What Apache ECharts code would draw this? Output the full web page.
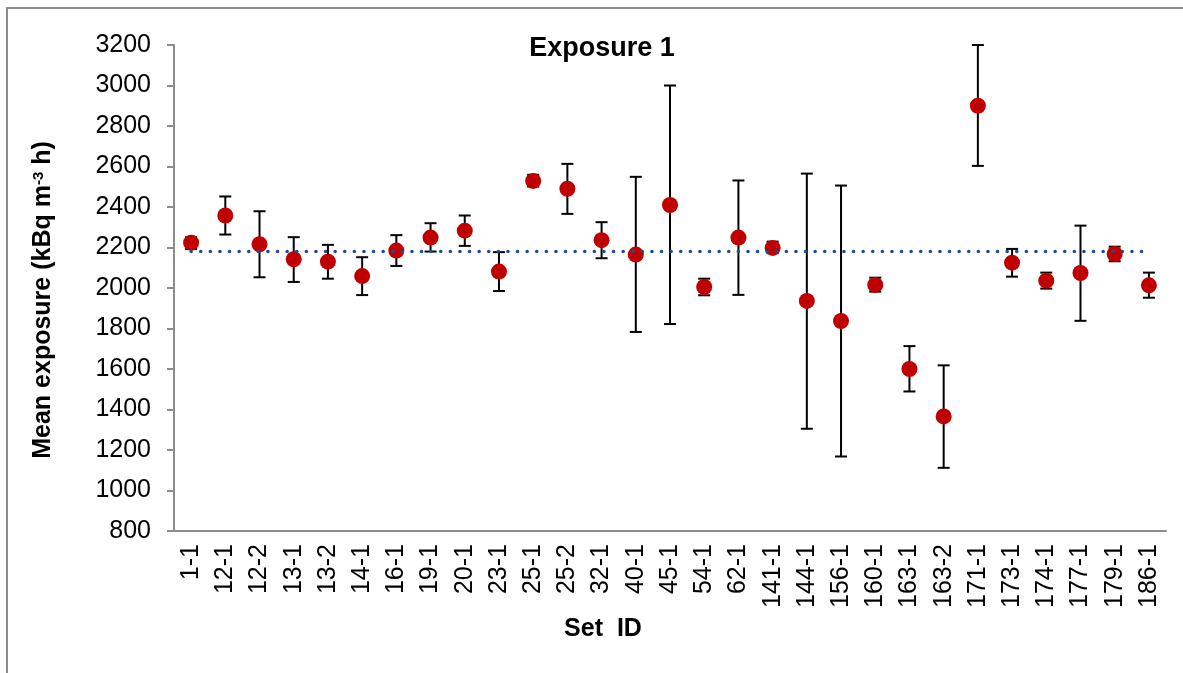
<!DOCTYPE html>
<html>
<head>
<meta charset="utf-8">
<script src="https://cdn.jsdelivr.net/npm/echarts@6/dist/echarts.min.js"></script>
<style>
  html, body { margin: 0; padding: 0; background: #fff; overflow: hidden; }
  #frame {
    position: absolute; left: 6px; top: 7px;
    width: 1300px; height: 800px;
    border-left: 2px solid #8c8c8c; border-top: 2px solid #8c8c8c;
  }
  #main { position: absolute; left: 0; top: 0; width: 1183px; height: 673px; }
</style>
</head>
<body>
<div id="frame"></div>
<div id="main"></div>
<script>
// set IDs along the x axis
var setIds = ['1-1', '12-1', '12-2', '13-1', '13-2', '14-1', '16-1', '19-1', '20-1', '23-1',
  '25-1', '25-2', '32-1', '40-1', '45-1', '54-1', '62-1', '141-1', '144-1', '156-1',
  '160-1', '163-1', '163-2', '171-1', '173-1', '174-1', '177-1', '179-1', '186-1'];

// mean exposure per set (kBq m-3 h)
var meanExposure = [2224, 2358, 2216, 2142, 2130, 2059, 2185, 2249, 2283, 2081,
  2529, 2490, 2236, 2165, 2410, 2005, 2249, 2198, 1936, 1837,
  2015, 1600, 1366, 2900, 2125, 2036, 2074, 2168, 2013];

// error bar ends
var upperBar = [2251, 2452, 2379, 2251, 2213, 2152, 2261, 2320, 2358, 2177,
  2559, 2613, 2325, 2549, 3000, 2046, 2531, 2229, 2565, 2506,
  2051, 1713, 1618, 3200, 2193, 2076, 2308, 2204, 2076];
var lowerBar = [2192, 2264, 2053, 2030, 2046, 1965, 2109, 2180, 2208, 1985,
  2501, 2366, 2147, 1783, 1822, 1964, 1966, 2172, 1305, 1168,
  1982, 1489, 1112, 2603, 2056, 1997, 1838, 2132, 1952];

// overall mean (dotted line)
var overallMean = 2180;

var yTicks = { min: 800, max: 3200, step: 200 };

var chartDom = document.getElementById('main');
var myChart = echarts.init(chartDom);
var option;

var barData = setIds.map(function (id, i) { return [i, lowerBar[i], upperBar[i]]; });
var meanLine = setIds.map(function () { return overallMean; });

option = {
  animation: false,
  textStyle: { fontFamily: 'Liberation Sans, Arial, sans-serif' },
  title: {
    text: 'Exposure 1',
    left: 597,
    top: 30,
    textAlign: 'center',
    textStyle: { fontSize: 27, fontWeight: 'bold', color: '#000' }
  },
  grid: { left: 174, right: 17, top: 45, bottom: 142 },
  xAxis: {
    type: 'category',
    data: setIds,
    boundaryGap: true,
    name: 'Set  ID',
    nameLocation: 'middle',
    nameGap: 86,
    nameTextStyle: { fontSize: 25, fontWeight: 'bold', color: '#000', padding: [0, 134, 0, 0] },
    axisLine: { lineStyle: { color: '#8c8c8c', width: 2 } },
    axisTick: { length: 6, lineStyle: { color: '#8c8c8c', width: 2 } },
    axisLabel: { rotate: 90, fontSize: 25, color: '#000', margin: 13, interval: 0 },
    splitLine: { show: false }
  },
  yAxis: {
    type: 'value',
    min: yTicks.min,
    max: yTicks.max,
    interval: yTicks.step,
    name: 'Mean exposure (kBq m{sup|-3} h)',
    nameLocation: 'middle',
    nameGap: 118,
    nameTextStyle: {
      fontSize: 25, fontWeight: 'bold', color: '#000', padding: [0, 24, 0, 0],
      rich: { sup: { fontSize: 15, fontWeight: 'bold', color: '#000', verticalAlign: 'top', padding: [0, 0, 10, 0] } }
    },
    axisLine: { show: true, lineStyle: { color: '#8c8c8c', width: 2 } },
    axisTick: { show: true, length: 7, lineStyle: { color: '#8c8c8c', width: 2 } },
    axisLabel: { fontSize: 25, color: '#000', margin: 23, formatter: function (v) { return String(v); } },
    splitLine: { show: false }
  },
  series: [
    {
      // error bars
      type: 'custom',
      z: 1,
      data: barData,
      renderItem: function (params, api) {
        var x = api.value(0);
        var lo = api.coord([x, api.value(1)]);
        var hi = api.coord([x, api.value(2)]);
        var half = 6;
        var style = { stroke: '#000', lineWidth: 2, fill: null };
        return {
          type: 'group',
          children: [
            { type: 'line', shape: { x1: hi[0], y1: hi[1], x2: lo[0], y2: lo[1] }, style: style },
            { type: 'line', shape: { x1: hi[0] - half, y1: hi[1], x2: hi[0] + half, y2: hi[1] }, style: style },
            { type: 'line', shape: { x1: lo[0] - half, y1: lo[1], x2: lo[0] + half, y2: lo[1] }, style: style }
          ]
        };
      }
    },
    {
      type: 'scatter',
      z: 2,
      data: meanExposure,
      symbol: 'circle',
      symbolSize: 16,
      itemStyle: { color: '#C00000', opacity: 1 }
    },
    {
      type: 'line',
      z: 3,
      data: meanLine,
      symbol: 'none',
      lineStyle: { color: '#1F4E8C', width: 3.5, type: [0.1, 9.5], cap: 'round' }
    }
  ]
};

option && myChart.setOption(option);
</script>
</body>
</html>
